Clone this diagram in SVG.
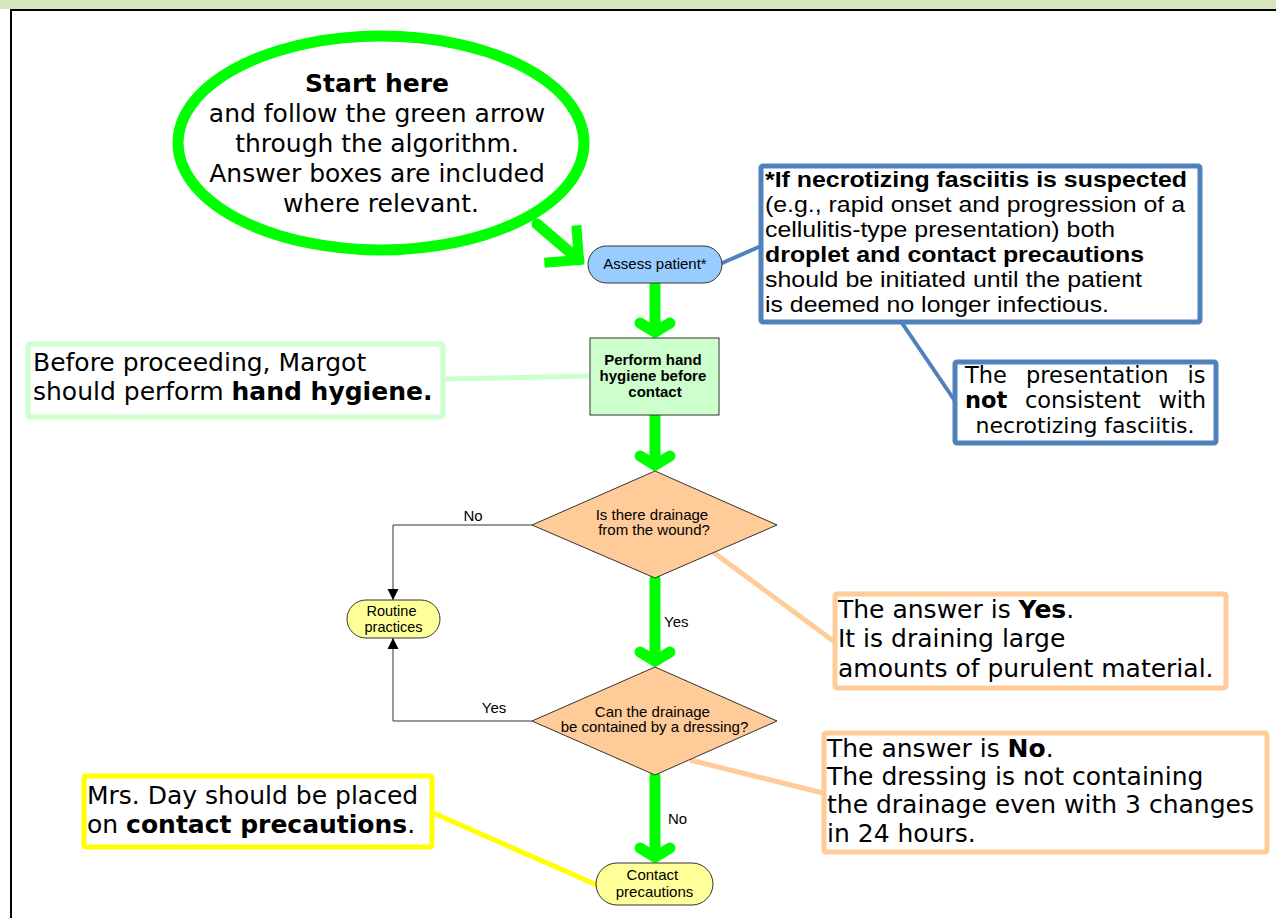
<svg xmlns="http://www.w3.org/2000/svg" width="1276" height="918" viewBox="0 0 1276 918">
<style>
.flow{font-family:"Liberation Sans",Arial,sans-serif;font-size:15px;fill:#000}
.b{font-weight:bold}
.ver{font-family:"DejaVu Sans",Verdana,sans-serif;font-size:25px;fill:#000}
.arial{font-family:"Liberation Sans",Arial,sans-serif;font-size:22px;fill:#000}
.node{stroke:#333;stroke-width:1}
.green{fill:none;stroke:#00ff00;stroke-width:11;stroke-linecap:round;stroke-linejoin:round}
.thin{fill:none;stroke:#333;stroke-width:1}
.call{fill:#fff;stroke-width:5}
</style>
<defs>
<marker id="chev" markerUnits="userSpaceOnUse" orient="auto" viewBox="-30 -30 60 60" markerWidth="60" markerHeight="60" refX="0" refY="0" overflow="visible">
<path d="M-9,-15 L0,0 L-9,15" fill="none" stroke="#00ff00" stroke-width="11" stroke-linecap="round" stroke-linejoin="round"/>
</marker>
<marker id="chevBig" markerUnits="userSpaceOnUse" orient="auto" viewBox="-40 -40 80 80" markerWidth="80" markerHeight="80" refX="0" refY="0" overflow="visible">
<path d="M-21,-21 L0,0 L-21,21" fill="none" stroke="#00ff00" stroke-width="10" stroke-linecap="square" stroke-linejoin="miter"/>
</marker>
<marker id="tri" markerUnits="userSpaceOnUse" orient="auto" viewBox="-12 -6 12 12" markerWidth="12" markerHeight="12" refX="0" refY="0" overflow="visible">
<path d="M-11,-5.5 L0,0 L-11,5.5 z" fill="#000"/>
</marker>
</defs>

<rect x="0" y="0" width="1276" height="9" fill="#d8e4bc"/>
<line x1="10" y1="10" x2="1276" y2="10" stroke="#000" stroke-width="2"/>
<line x1="11" y1="9" x2="11" y2="918" stroke="#000" stroke-width="2"/>

<g id="connectors">
<line x1="537" y1="224" x2="579" y2="260" class="green" marker-end="url(#chevBig)"/>
<line x1="655" y1="284" x2="655" y2="332" class="green" marker-end="url(#chev)"/>
<line x1="655" y1="416" x2="655" y2="465" class="green" marker-end="url(#chev)"/>
<line x1="655" y1="579" x2="655" y2="661" class="green" marker-end="url(#chev)"/>
<line x1="655" y1="776" x2="655" y2="857" class="green" marker-end="url(#chev)"/>
<path d="M532,525 H393 V600" class="thin" marker-end="url(#tri)"/>
<path d="M532,721 H393 V638" class="thin" marker-end="url(#tri)"/>
<text x="473" y="521" class="flow" text-anchor="middle">No</text>
<text x="494" y="713" class="flow" text-anchor="middle">Yes</text>
<text x="664" y="627" class="flow">Yes</text>
<text x="668" y="824" class="flow">No</text>
<line x1="443" y1="379" x2="590" y2="376" stroke="#ccffcc" stroke-width="5"/>
<line x1="720" y1="264" x2="761" y2="246" stroke="#4f81bd" stroke-width="4"/>
<line x1="902" y1="323" x2="955" y2="401" stroke="#4f81bd" stroke-width="4"/>
<line x1="713" y1="552" x2="836" y2="643" stroke="#ffcc99" stroke-width="5"/>
<line x1="690" y1="760" x2="823" y2="793" stroke="#ffcc99" stroke-width="5"/>
<line x1="433" y1="813" x2="597" y2="885" stroke="#ffff00" stroke-width="5"/>
</g>

<g id="start">
<ellipse cx="381" cy="143" rx="203" ry="107" fill="#fff" stroke="#00ff00" stroke-width="11"/>
<text class="ver" text-anchor="middle" x="381">
<tspan x="381" y="92" class="b">Start here</tspan>
<tspan x="381" y="122">and follow the green arrow</tspan>
<tspan x="381" y="152">through the algorithm.</tspan>
<tspan x="381" y="182">Answer boxes are included</tspan>
<tspan x="381" y="212">where relevant.</tspan>
</text>
</g>

<g id="assess">
<rect x="588" y="246" width="134" height="37" rx="18.5" fill="#99ccff" class="node"/>
<text x="655" y="269" class="flow" text-anchor="middle">Assess patient*</text>
</g>

<g id="hygiene">
<rect x="590" y="338" width="129" height="77" fill="#ccffcc" class="node"/>
<text class="flow b" text-anchor="middle">
<tspan x="655" y="365">Perform hand</tspan>
<tspan x="655" y="381">hygiene before</tspan>
<tspan x="655" y="397">contact</tspan>
</text>
</g>

<g id="q1">
<polygon points="532,525 655,471 777,525 655,578" fill="#ffcc99" class="node"/>
<text class="flow" text-anchor="middle">
<tspan x="654" y="520">Is there drainage</tspan>
<tspan x="654" y="535">from the wound?</tspan>
</text>
</g>

<g id="routine">
<rect x="347" y="600" width="93" height="38" rx="19" fill="#ffff99" class="node"/>
<text class="flow" text-anchor="middle" style="font-size:14.5px">
<tspan x="393.5" y="616">Routine</tspan>
<tspan x="393.5" y="632">practices</tspan>
</text>
</g>

<g id="q2">
<polygon points="532,721 655,667 777,721 655,775" fill="#ffcc99" class="node"/>
<text class="flow" text-anchor="middle">
<tspan x="654.5" y="717">Can the drainage</tspan>
<tspan x="654.5" y="732">be contained by a dressing?</tspan>
</text>
</g>

<g id="contact">
<rect x="596" y="863" width="117" height="42" rx="21" fill="#ffff99" class="node"/>
<text class="flow" text-anchor="middle">
<tspan x="654.5" y="880">Contact</tspan>
<tspan x="654.5" y="897">precautions</tspan>
</text>
</g>

<g id="note-hygiene">
<rect x="28" y="344" width="415" height="73" rx="2" class="call" stroke="#ccffcc"/>
<text class="ver">
<tspan x="33" y="371">Before proceeding, Margot</tspan>
<tspan x="33" y="400">should perform <tspan class="b">hand hygiene.</tspan></tspan>
</text>
</g>

<g id="note-nf">
<rect x="761" y="166" width="439" height="156" rx="2" class="call" stroke="#4f81bd" stroke-width="4"/>
<text class="arial b" x="765" y="187" textLength="422" lengthAdjust="spacingAndGlyphs">*If necrotizing fasciitis is suspected</text>
<text class="arial" x="765" y="212" textLength="420" lengthAdjust="spacingAndGlyphs">(e.g., rapid onset and progression of a</text>
<text class="arial" x="765" y="237" textLength="350" lengthAdjust="spacingAndGlyphs">cellulitis-type presentation) both</text>
<text class="arial b" x="765" y="262" textLength="379" lengthAdjust="spacingAndGlyphs">droplet and contact precautions</text>
<text class="arial" x="765" y="287" textLength="377" lengthAdjust="spacingAndGlyphs">should be initiated until the patient</text>
<text class="arial" x="765" y="312" textLength="344" lengthAdjust="spacingAndGlyphs">is deemed no longer infectious.</text>
</g>

<g id="note-presentation">
<rect x="955" y="362" width="261" height="81" rx="2" class="call" stroke="#4f81bd" stroke-width="4"/>
<text class="ver" style="font-size:22.5px;word-spacing:12px" x="965" y="383">The presentation is</text>
<text class="ver" style="font-size:22.5px;word-spacing:10.5px" x="965" y="408"><tspan class="b">not</tspan> consistent with</text>
<text class="ver" style="font-size:22px" x="1085" y="433" text-anchor="middle">necrotizing fasciitis.</text>
</g>

<g id="answer-yes">
<rect x="835" y="594" width="391" height="94" rx="2" class="call" stroke="#ffcc99" stroke-width="4.5"/>
<text class="ver">
<tspan x="838" y="618">The answer is <tspan class="b">Yes</tspan>.</tspan>
<tspan x="838" y="647">It is draining large</tspan>
<tspan x="838" y="677">amounts of purulent material.</tspan>
</text>
</g>

<g id="answer-no">
<rect x="824" y="733" width="443" height="119" rx="2" class="call" stroke="#ffcc99" stroke-width="4.5"/>
<text class="ver">
<tspan x="827" y="757">The answer is <tspan class="b">No</tspan>.</tspan>
<tspan x="827" y="785">The dressing is not containing</tspan>
<tspan x="827" y="813">the drainage even with 3 changes</tspan>
<tspan x="827" y="842">in 24 hours.</tspan>
</text>
</g>

<g id="note-contact">
<rect x="84" y="776" width="348" height="71" rx="2" class="call" stroke="#ffff00"/>
<text class="ver">
<tspan x="87" y="804">Mrs. Day should be placed</tspan>
<tspan x="87" y="833">on <tspan class="b">contact precautions</tspan>.</tspan>
</text>
</g>
</svg>
